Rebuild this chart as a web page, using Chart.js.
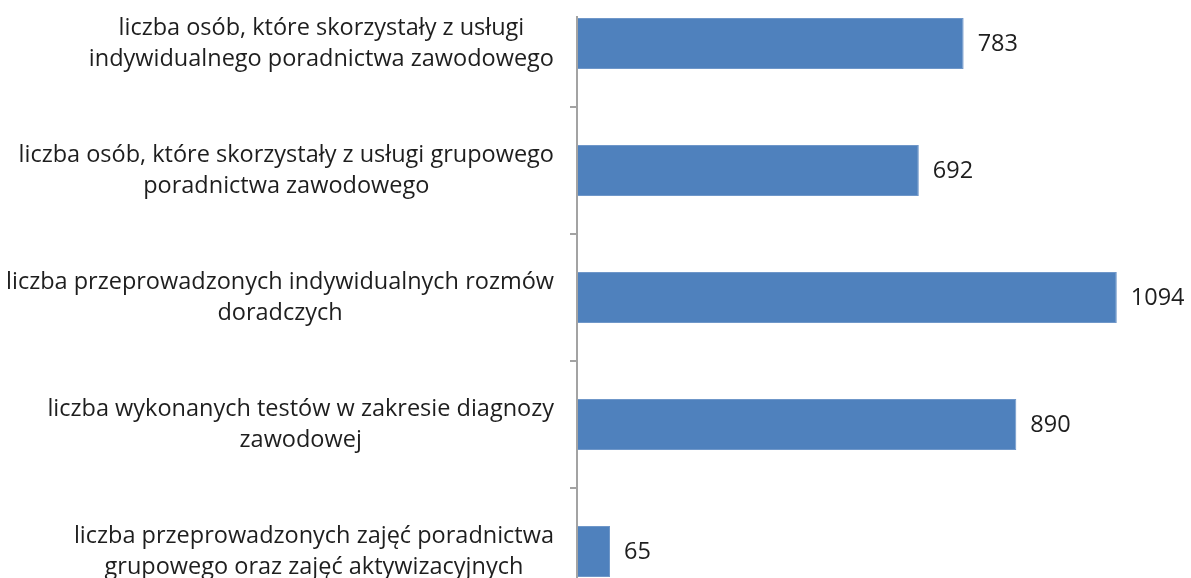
<!DOCTYPE html>
<html>
<head>
<meta charset="utf-8">
<script src="https://cdn.jsdelivr.net/npm/chart.js@4/dist/chart.umd.min.js"></script>
<style>
  html, body { margin: 0; padding: 0; background: #ffffff; overflow: hidden; width: 1191px; height: 578px; }
  #wrap { position: absolute; left: 0; top: -20px; width: 1191px; height: 635px; }
</style>
</head>
<body>
<div id="wrap"><canvas id="c" width="1191" height="635"></canvas></div>
<script>
const categories = [
  ['liczba osób, które skorzystały z usługi', 'indywidualnego poradnictwa zawodowego'],
  ['liczba osób, które skorzystały z usługi grupowego', 'poradnictwa zawodowego'],
  ['liczba przeprowadzonych indywidualnych rozmów', 'doradczych'],
  ['liczba wykonanych testów w zakresie diagnozy', 'zawodowej'],
  ['liczba przeprowadzonych zajęć poradnictwa', 'grupowego oraz zajęć aktywizacyjnych']
];
const values = [783, 692, 1094, 890, 65];
const axisMin = 0;
const axisMax = 1200;

const LABEL_FONT = '23.5px "Open Sans"';
const VALUE_FONT = '23.5px "Open Sans"';
const TEXT_COLOR = '#1e1e1e';

const textPlugin = {
  id: 'textPlugin',
  afterDraw(chart) {
    const ctx = chart.ctx;
    const ys = chart.scales.y;
    const area = chart.chartArea;
    ctx.save();
    // axis line
    ctx.strokeStyle = '#a3a3a3';
    ctx.lineWidth = 2;
    ctx.beginPath();
    ctx.moveTo(area.left - 1, area.top + 36);
    ctx.lineTo(area.left - 1, area.bottom);
    ctx.stroke();
    // category labels: block right-aligned, lines centered
    ctx.fillStyle = TEXT_COLOR;
    ctx.font = LABEL_FONT;
    ctx.textAlign = 'center';
    ctx.textBaseline = 'middle';
    categories.forEach((lines, i) => {
      const y = ys.getPixelForValue(i);
      const maxW = Math.max(...lines.map(l => ctx.measureText(l).width));
      const cx = area.left - 24 - maxW / 2;
      lines.forEach((l, j) => {
        ctx.fillText(l, cx, y + (j - (lines.length - 1) / 2) * 31);
      });
    });
    // value labels
    ctx.font = VALUE_FONT;
    ctx.textAlign = 'left';
    const meta = chart.getDatasetMeta(0);
    meta.data.forEach((el, i) => {
      ctx.fillText(String(values[i]), el.x + 14, el.y + 1);
    });
    ctx.restore();
  }
};

new Chart(document.getElementById('c'), {
  type: 'bar',
  data: {
    labels: categories,
    datasets: [{
      data: values,
      backgroundColor: '#4f81bd',
      borderColor: '#6f97c9',
      borderWidth: 1,
      barPercentage: 0.4,
      categoryPercentage: 1.0
    }]
  },
  options: {
    indexAxis: 'y',
    responsive: false,
    animation: false,
    layout: { padding: { left: 0, right: 22, top: 0, bottom: 0 } },
    plugins: { legend: { display: false }, tooltip: { enabled: false } },
    scales: {
      x: { display: false, min: axisMin, max: axisMax },
      y: {
        offset: true,
        grid: { offset: true, drawOnChartArea: false, drawTicks: true, tickLength: 8, color: '#a3a3a3', lineWidth: 2 },
        border: { display: false },
        ticks: { display: false },
        afterFit(scale) { scale.width = 578; }
      }
    }
  },
  plugins: [textPlugin]
});
</script>
</body>
</html>
